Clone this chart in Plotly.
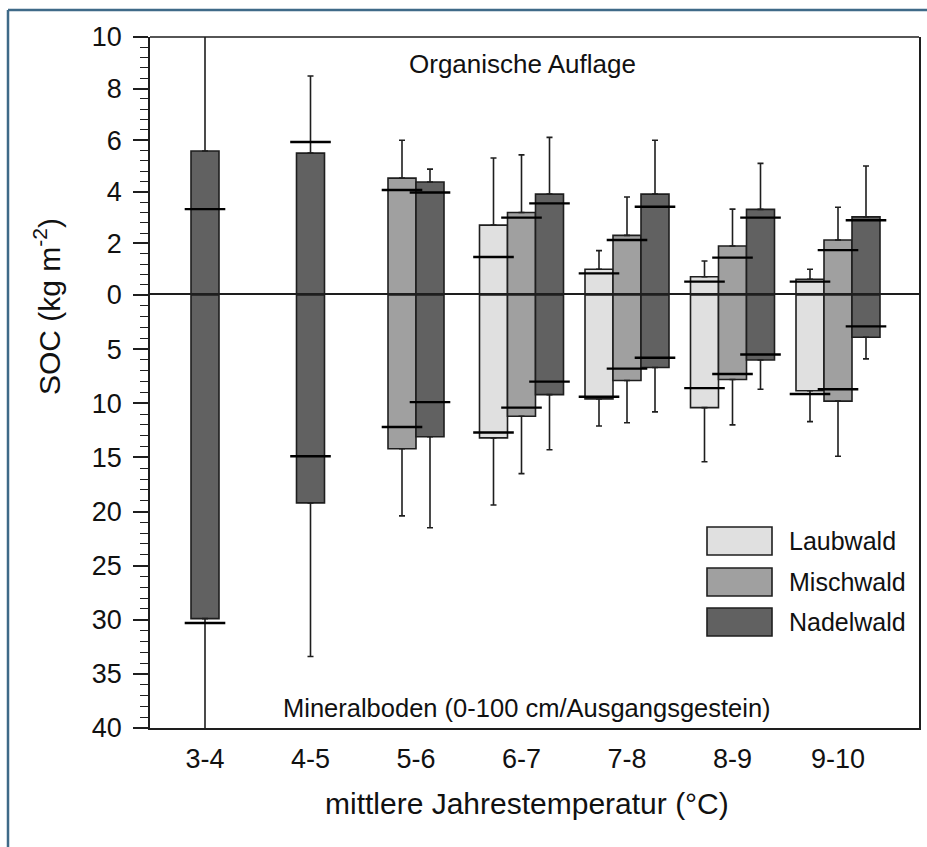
import plotly.graph_objects as go

# ---------------- data ----------------
categories = ["3-4", "4-5", "5-6", "6-7", "7-8", "8-9", "9-10"]
series_names = ["Laubwald", "Mischwald", "Nadelwald"]
series_colors = ["#e0e0e0", "#a0a0a0", "#616161"]

# Organische Auflage (kg m-2): bar value, median line, whisker end
laub_org_bar = [None, None, None, 2.71, 1.00, 0.71, 0.61]
misch_org_bar = [None, None, 4.53, 3.20, 2.31, 1.90, 2.13]
nadel_org_bar = [5.58, 5.50, 4.38, 3.91, 3.91, 3.32, 3.03]

laub_org_med = [None, None, None, 1.47, 0.84, 0.52, 0.52]
misch_org_med = [None, None, 4.07, 3.00, 2.13, 1.45, 1.74]
nadel_org_med = [3.33, 5.93, 3.97, 3.55, 3.42, 3.00, 2.90]

laub_org_whisk = [None, None, None, 5.31, 1.72, 1.32, 1.00]
misch_org_whisk = [None, None, 6.00, 5.43, 3.80, 3.33, 3.40]
nadel_org_whisk = [11.0, 8.49, 4.88, 6.11, 6.00, 5.10, 5.00]

# Mineralboden (kg m-2): bar value, median line, whisker end
laub_min_bar = [None, None, None, 13.2, 9.6, 10.4, 8.85]
misch_min_bar = [None, None, 14.2, 11.2, 7.9, 7.8, 9.8]
nadel_min_bar = [29.9, 19.2, 13.1, 9.2, 6.7, 6.0, 3.9]

laub_min_med = [None, None, None, 12.7, 9.4, 8.6, 9.15]
misch_min_med = [None, None, 12.2, 10.4, 6.8, 7.3, 8.7]
nadel_min_med = [30.3, 14.9, 9.9, 8.0, 5.8, 5.5, 2.9]

laub_min_whisk = [None, None, None, 19.4, 12.1, 15.4, 11.7]
misch_min_whisk = [None, None, 20.4, 16.5, 11.8, 12.0, 14.9]
nadel_min_whisk = [42.0, 33.4, 21.5, 14.3, 10.8, 8.7, 5.9]

org_ticks = [0, 2, 4, 6, 8, 10]
min_ticks = [5, 10, 15, 20, 25, 30, 35, 40]

org_bar = [laub_org_bar, misch_org_bar, nadel_org_bar]
org_med = [laub_org_med, misch_org_med, nadel_org_med]
org_whisk = [laub_org_whisk, misch_org_whisk, nadel_org_whisk]
min_bar = [laub_min_bar, misch_min_bar, nadel_min_bar]
min_med = [laub_min_med, misch_min_med, nadel_min_med]
min_whisk = [laub_min_whisk, misch_min_whisk, nadel_min_whisk]

# ---------------- layout geometry (pixels) ----------------
W, H = 927, 847
L, R, T, B = 150, 919, 37, 728
ZERO_PX = 295
CAT_PX = 105.5          # pixels per category
FIRST_PX = 205          # pixel of first category centre
BAR_PX = 28

def px_x(p):
    return (p - L) / (R - L)

def px_y(p):
    return (B - p) / (B - T)

split = px_y(ZERO_PX)
x_r0 = -(FIRST_PX - L) / CAT_PX
x_r1 = x_r0 + (R - L) / CAT_PX
bw = BAR_PX / CAT_PX

FONT = "Liberation Sans, Arial, sans-serif"
INK = "#1e1e1e"
TXT = "#111111"

fig = go.Figure()

def offsets_for(si, data):
    offs = []
    for ci in range(len(categories)):
        present = [k for k in range(len(data)) if data[k][ci] is not None]
        if si in present:
            n = len(present)
            offs.append((present.index(si) - n / 2) * bw)
        else:
            offs.append(0)
    return offs

for bars, meds, whisks, yax in [(org_bar, org_med, org_whisk, "y"),
                                (min_bar, min_med, min_whisk, "y2")]:
    for si, name in enumerate(series_names):
        vals = bars[si]
        offs = offsets_for(si, bars)
        xs = list(range(len(categories)))
        err = [(w - v) if (v is not None and w is not None) else 0
               for v, w in zip(vals, whisks[si])]
        fig.add_trace(go.Bar(
            x=xs, y=vals, offset=offs, width=bw, name=name,
            xaxis="x", yaxis=yax, showlegend=False,
            marker=dict(color=series_colors[si], line=dict(color=INK, width=1.6)),
            error_y=dict(type="data", symmetric=False, array=err,
                         arrayminus=[0] * len(err), color=INK,
                         thickness=1.6, width=3),
        ))
        mx = [c + o + bw / 2 for c, o in zip(xs, offs)]
        fig.add_trace(go.Scatter(
            x=mx, y=meds[si], mode="markers", xaxis="x", yaxis=yax,
            showlegend=False, hoverinfo="skip", cliponaxis=True,
            marker=dict(symbol="line-ew", size=BAR_PX + 1,
                        line=dict(color="#000000", width=2.4)),
        ))

axis_common = dict(showgrid=False, zeroline=False, showline=True,
                   linecolor=INK, linewidth=1.6,
                   tickfont=dict(family=FONT, size=27, color=TXT))

fig.update_layout(
    width=W, height=H, template="none",
    paper_bgcolor="white", plot_bgcolor="white",
    margin=dict(l=L, r=W - R, t=T, b=H - B, pad=0, autoexpand=False),
    barmode="overlay",
    font=dict(family=FONT, color=TXT),
    xaxis=dict(domain=[0, 1], range=[x_r0, x_r1], anchor="y2",
               tickmode="array", tickvals=list(range(len(categories))),
               ticktext=categories, ticks="", mirror=True,
               ticklabelstandoff=6, **axis_common),
    yaxis=dict(domain=[split, 1], range=[0, 10], anchor="x",
               tickmode="array", tickvals=org_ticks, ticks="outside",
               ticklen=15, tickwidth=1.6, tickcolor=INK, mirror=True,
               ticklabelstandoff=6,
               minor=dict(dtick=0.4, tick0=0, ticks="outside", ticklen=8,
                          tickwidth=1.3, tickcolor=INK),
               **axis_common),
    yaxis2=dict(domain=[0, split], range=[40, 0], anchor="x",
                tickmode="array", tickvals=min_ticks, ticks="outside",
                ticklen=15, tickwidth=1.6, tickcolor=INK, mirror=True,
                ticklabelstandoff=6,
                minor=dict(dtick=1, tick0=0, ticks="outside", ticklen=8,
                           tickwidth=1.3, tickcolor=INK),
                **axis_common),
)

annotations = [
    dict(text="SOC (kg m<sup>-2</sup>)", x=px_x(47), y=px_y(307),
         textangle=-90, font=dict(size=30)),
    dict(text="mittlere Jahrestemperatur (°C)", x=px_x(527), y=px_y(803),
         font=dict(size=30)),
    dict(text="Organische Auflage", x=px_x(522), y=px_y(64),
         font=dict(size=26)),
    dict(text="Mineralboden (0-100 cm/Ausgangsgestein)", x=px_x(527),
         y=px_y(708), font=dict(size=25.5)),
]
for a in annotations:
    a.update(xref="paper", yref="paper", xanchor="center", yanchor="middle",
             showarrow=False)
    a["font"].update(family=FONT, color=TXT)

shapes = []
# top border of the plot area
shapes.append(dict(type="line", xref="paper", yref="paper", x0=0, x1=1,
                   y0=1, y1=1, line=dict(color=INK, width=1.6)))
# custom legend
leg_top = [527, 568, 608]
for si, name in enumerate(series_names):
    y0 = leg_top[si]
    shapes.append(dict(type="rect", xref="paper", yref="paper",
                       x0=px_x(707), x1=px_x(772), y0=px_y(y0 + 28), y1=px_y(y0),
                       fillcolor=series_colors[si],
                       line=dict(color=INK, width=1.6)))
    annotations.append(dict(text=name, xref="paper", yref="paper",
                            x=px_x(787), y=px_y(y0 + 14), xanchor="left",
                            yanchor="middle", showarrow=False,
                            font=dict(family=FONT, size=25, color=TXT)))

# outer frame (top and left edges visible)
FRAME = "#3f6a88"
shapes.append(dict(type="line", xref="paper", yref="paper",
                   x0=px_x(8), x1=px_x(8), y0=px_y(10), y1=px_y(H + 5),
                   line=dict(color=FRAME, width=2.5)))
shapes.append(dict(type="line", xref="paper", yref="paper",
                   x0=px_x(8), x1=px_x(W + 5), y0=px_y(10), y1=px_y(10),
                   line=dict(color=FRAME, width=2.5)))

fig.update_layout(annotations=annotations, shapes=shapes)

fig.write_html("out.html",
               config={"displayModeBar": False},
               post_script="document.body.style.margin='0';"
                           "document.body.style.overflow='hidden';")
